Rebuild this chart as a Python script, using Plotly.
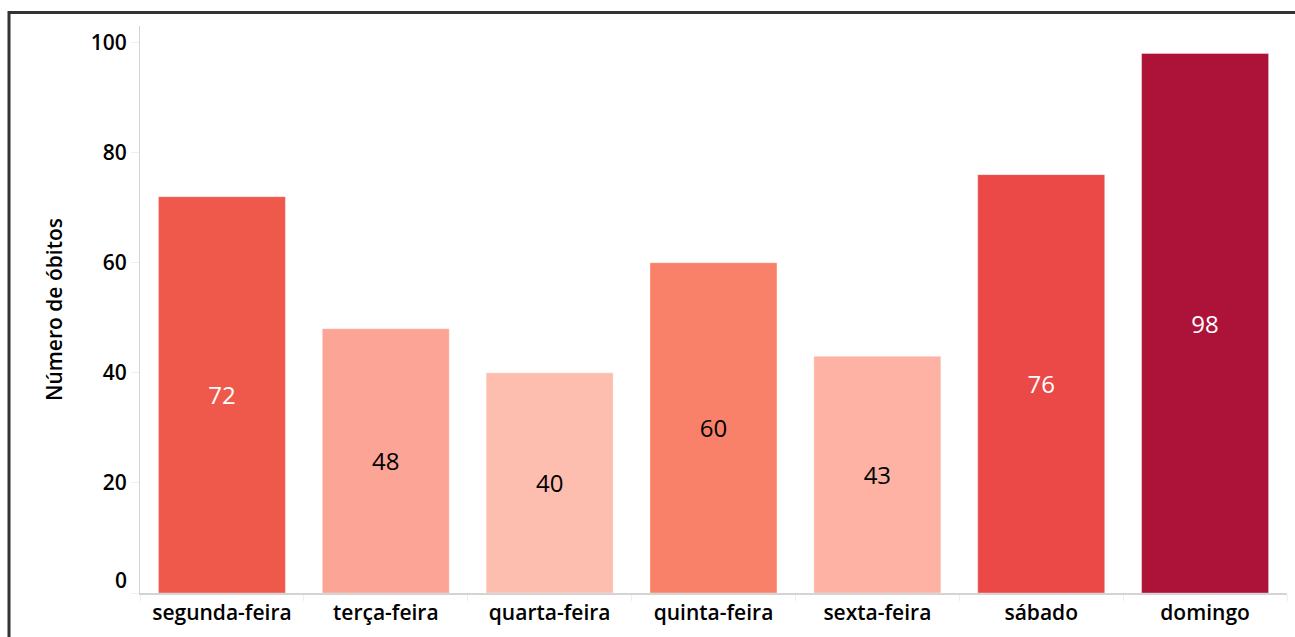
import plotly.graph_objects as go

days = ["segunda-feira", "terça-feira", "quarta-feira", "quinta-feira", "sexta-feira", "sábado", "domingo"]
deaths = [72, 48, 40, 60, 43, 76, 98]
bar_colors = ["#EF594C", "#FCA496", "#FDBEB0", "#FA8169", "#FDB2A3", "#EA4947", "#AD1238"]
label_colors = ["white", "black", "black", "black", "black", "white", "white"]
y_ticks = [0, 20, 40, 60, 80, 100]

W, H = 1295, 637
L, T = 140, 26
PLOT_R, PLOT_B = 1287, 593
R, B = W - PLOT_R, H - PLOT_B
pw, ph = W - L - R, H - T - B

fig = go.Figure(go.Bar(
    x=days, y=deaths,
    marker=dict(color=bar_colors, line=dict(color="rgba(255,255,255,0.35)", width=1)),
    text=[str(v) for v in deaths],
    textposition="inside", insidetextanchor="middle",
    textfont=dict(color=label_colors, size=24, family="Open Sans"),
    hoverinfo="x+y",
))

def px_x(p):
    return (p - L) / pw

def px_y(p):
    return (H - B - p) / ph

tick_font = dict(size=21, family="Open Sans", weight=600, color="black")

fig.update_layout(
    width=W, height=H,
    margin=dict(l=L, r=R, t=T, b=B),
    paper_bgcolor="white", plot_bgcolor="white",
    bargap=0.225,
    showlegend=False,
    font=dict(family="Open Sans", color="black"),
    shapes=[
        dict(type="line", xref="paper", yref="paper", x0=px_x(8), x1=px_x(1300), y0=px_y(12.5), y1=px_y(12.5),
             line=dict(color="#333333", width=3)),
        dict(type="line", xref="paper", yref="paper", x0=px_x(9), x1=px_x(9), y0=px_y(11), y1=px_y(645),
             line=dict(color="#333333", width=3)),
    ],
    annotations=[
        # bottom tick label sits slightly above the baseline, as in the reference
        dict(text=str(y_ticks[0]), xref="paper", yref="paper", x=px_x(129), y=px_y(580),
             xanchor="right", yanchor="middle", showarrow=False, font=tick_font),
    ],
)
fig.update_xaxes(
    showline=True, linecolor="#d4d4d4", linewidth=2,
    ticks="outside", tickson="boundaries", ticklen=6, tickcolor="#eeeeee",
    tickfont=tick_font,
    showgrid=False,
)
fig.update_yaxes(
    range=[0, 103], tickvals=y_ticks,
    ticktext=[""] + [str(v) for v in y_ticks[1:]],
    showline=True, linecolor="#d4d4d4", linewidth=1,
    ticks="outside", ticklen=8, tickcolor="#eeeeee",
    tickfont=tick_font,
    showgrid=False, zeroline=False,
    title=dict(text="Número de óbitos", font=tick_font, standoff=22),
)

fig.write_html(
    "out.html",
    config={"displayModeBar": False},
    post_script="document.body.style.margin='0';document.body.style.overflow='hidden';",
)
